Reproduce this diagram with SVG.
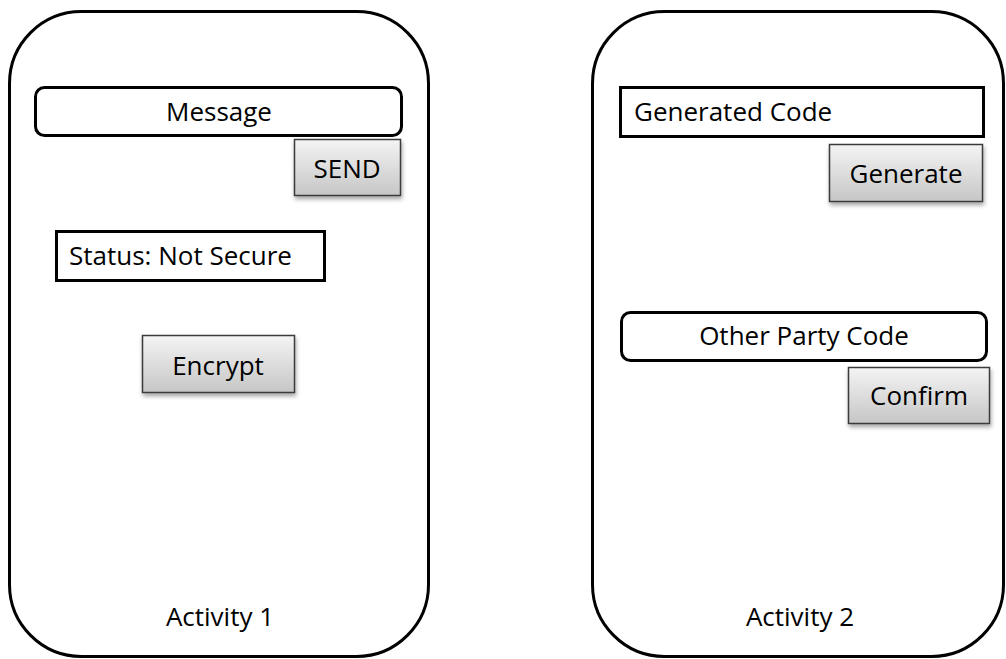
<svg xmlns="http://www.w3.org/2000/svg" width="1006" height="659" viewBox="0 0 1006 659">
<defs>
<linearGradient id="btn" x1="0" y1="0" x2="0" y2="1">
<stop offset="0" stop-color="#f4f4f4"/>
<stop offset="1" stop-color="#c6c6c6"/>
</linearGradient>
<filter id="sh" x="-10%" y="-10%" width="130%" height="140%">
<feDropShadow dx="1" dy="3" stdDeviation="2" flood-color="#000" flood-opacity="0.35"/>
</filter>
</defs>
<style>
.phone{fill:#fff;stroke:#000;stroke-width:3}
.field{fill:#fff;stroke:#000;stroke-width:3}
.button{fill:url(#btn);stroke:#3a3a3a;stroke-width:1.5;filter:url(#sh)}
text{font-family:"Open Sans","Liberation Sans",sans-serif;font-size:26px;fill:#000}
.c{text-anchor:middle}
</style>
<g id="activity1">
<rect class="phone" x="9.5" y="11.5" width="419" height="645" rx="72" ry="72"/>
<text class="c" x="220" y="626">Activity 1</text>
</g>
<g id="message">
<rect class="field" x="35.5" y="87.5" width="366" height="48" rx="9"/>
<text class="c" x="219" y="121">Message</text>
</g>
<g id="send">
<rect class="button" x="294.5" y="139.5" width="106" height="56"/>
<text class="c" x="347" y="178">SEND</text>
</g>
<g id="status">
<rect class="field" x="56.5" y="231.5" width="268" height="49"/>
<text x="69" y="265">Status: Not Secure</text>
</g>
<g id="encrypt">
<rect class="button" x="142.5" y="335.5" width="152" height="57"/>
<text class="c" x="218" y="375">Encrypt</text>
</g>
<g id="activity2">
<rect class="phone" x="592.5" y="11.5" width="411" height="645" rx="72" ry="72"/>
<text class="c" x="800" y="626">Activity 2</text>
</g>
<g id="generatedCode">
<rect class="field" x="620.5" y="87.5" width="363" height="49"/>
<text x="634" y="121">Generated Code</text>
</g>
<g id="generate">
<rect class="button" x="829.5" y="144.5" width="153" height="57"/>
<text class="c" x="906" y="183">Generate</text>
</g>
<g id="otherPartyCode">
<rect class="field" x="621.5" y="312.5" width="365" height="48" rx="9"/>
<text class="c" x="804" y="345">Other Party Code</text>
</g>
<g id="confirm">
<rect class="button" x="848.5" y="367.5" width="141" height="56"/>
<text class="c" x="919" y="405">Confirm</text>
</g>
<g id="connectors"/>
</svg>
